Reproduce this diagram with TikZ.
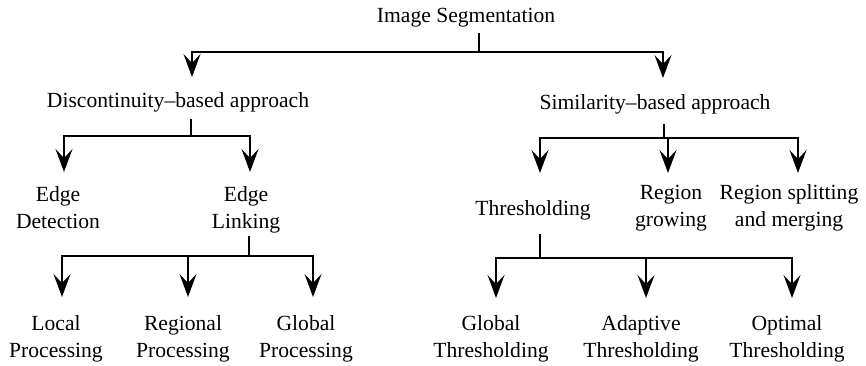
\documentclass[tikz,border=0pt]{standalone}
\usepackage{fontspec}
\setmainfont{Liberation Serif}
\usetikzlibrary{arrows.meta}
\usetikzlibrary{calc}

\begin{document}
\begin{tikzpicture}[x=1pt, y=-1pt, line width=1.8pt,
        text_style/.style={font=\fontsize{21.6}{27}\selectfont, align=center, inner sep=0pt, anchor=base},
        line_style/.style={draw=black, line width=1.8pt},
        edge_style/.style={draw=black, line width=1.8pt, -{Stealth[length=23pt,width=17pt,inset=9pt]}}]

        \useasboundingbox (0,0) rectangle (866,365);

        \node [text_style](seg) at (466,22) {Image Segmentation};

        \node [text_style](disc) at (178,107) {Discontinuity--based approach};

        \node [text_style](simi) at (655,109) {Similarity--based approach};

        \node [text_style](edet) at (58,228) {Edge\\Detection};

        \node [text_style](elink) at (246,228) {Edge\\Linking};

        \node [text_style](thr) at (533,215) {Thresholding};

        \node [text_style](rgrow) at (671,226) {Region\\growing};

        \node [text_style](rsplit) at (789,226) {Region splitting\\and merging};

        \node [text_style](lproc) at (56,357) {Local\\Processing};

        \node [text_style](rproc) at (183,357) {Regional\\Processing};

        \node [text_style](gproc) at (306,357) {Global\\Processing};

        \node [text_style](gthr) at (491,357) {Global\\Thresholding};

        \node [text_style](athr) at (641,357) {Adaptive\\Thresholding};

        \node [text_style](othr) at (787,357) {Optimal\\Thresholding};

        % junctions and arrow tips
        \coordinate (seg_j) at (479,52);
        \coordinate (disc_in) at (192,77);
        \coordinate (simi_in) at (663,78);

        \coordinate (disc_j) at (191,136);
        \coordinate (edet_in) at (64,172);
        \coordinate (elink_in) at (250,172);

        \coordinate (simi_j) at (664,138);
        \coordinate (thr_in) at (540,173);
        \coordinate (rgrow_in) at (668,173);
        \coordinate (rsplit_in) at (798,173);

        \coordinate (elink_j) at (249,256);
        \coordinate (lproc_in) at (62,297);
        \coordinate (rproc_in) at (188,297);
        \coordinate (gproc_in) at (313,297);

        \coordinate (thr_j) at (540,258);
        \coordinate (gthr_in) at (496,298);
        \coordinate (athr_in) at (646,298);
        \coordinate (othr_in) at (792,298);

        \draw [line_style, shorten <=5.5pt] (seg_j |- seg.south) -- (seg_j);
        \draw [edge_style] (seg_j) -| (disc_in);
        \draw [edge_style] (seg_j) -| (simi_in);

        \draw [line_style, shorten <=6.5pt] (disc_j |- disc.south) -- (disc_j);
        \draw [edge_style] (disc_j) -| (edet_in);
        \draw [edge_style] (disc_j) -| (elink_in);

        \draw [line_style, shorten <=9.5pt] (simi_j |- simi.south) -- (simi_j);
        \draw [edge_style] (simi_j) -| (thr_in);
        \draw [edge_style] (simi_j) -| (rgrow_in);
        \draw [edge_style] (simi_j) -| (rsplit_in);

        \draw [line_style, shorten <=2.5pt] (elink_j |- elink.south) -- (elink_j);
        \draw [edge_style] (elink_j) -| (lproc_in);
        \draw [edge_style] (elink_j) -| (rproc_in);
        \draw [edge_style] (elink_j) -| (gproc_in);

        \draw [line_style, shorten <=13.5pt] (thr_j |- thr.south) -- (thr_j);
        \draw [edge_style] (thr_j) -| (gthr_in);
        \draw [edge_style] (thr_j) -| (athr_in);
        \draw [edge_style] (thr_j) -| (othr_in);

\end{tikzpicture}
\end{document}
